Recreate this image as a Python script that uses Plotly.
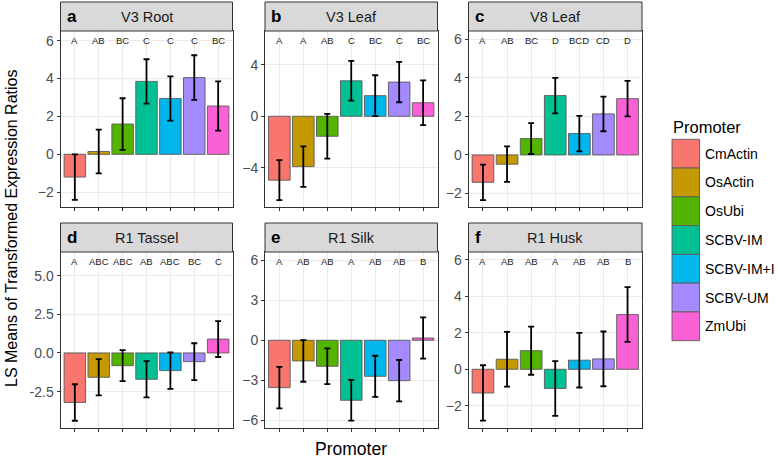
import plotly.graph_objects as go

# ---------------- data ----------------
promoters = ["CmActin", "OsActin", "OsUbi", "SCBV-IM", "SCBV-IM+I", "SCBV-UM", "ZmUbi"]
colors = ["#F8766D", "#C49A00", "#53B400", "#00C094", "#00B6EB", "#A58AFF", "#FB61D7"]

panel_letters = ["a", "b", "c", "d", "e", "f"]
panel_titles = ["V3 Root", "V3 Leaf", "V8 Leaf", "R1 Tassel", "R1 Silk", "R1 Husk"]

v3_root_mean = [-1.2, 0.15, 1.6, 3.85, 2.95, 4.05, 2.55]
v3_root_err = [1.2, 1.15, 1.36, 1.17, 1.17, 1.18, 1.3]
v3_root_groups = ["A", "AB", "BC", "C", "C", "C", "BC"]

v3_leaf_mean = [-4.95, -3.9, -1.55, 2.75, 1.6, 2.65, 1.05]
v3_leaf_err = [1.55, 1.57, 1.73, 1.54, 1.58, 1.56, 1.73]
v3_leaf_groups = ["A", "A", "AB", "C", "BC", "C", "BC"]

v8_leaf_mean = [-1.42, -0.48, 0.85, 3.08, 1.11, 2.13, 2.92]
v8_leaf_err = [0.92, 0.92, 0.8, 0.92, 0.92, 0.9, 0.92]
v8_leaf_groups = ["A", "AB", "BC", "D", "BCD", "CD", "D"]

r1_tassel_mean = [-3.2, -1.57, -0.82, -1.7, -1.14, -0.56, 0.9]
r1_tassel_err = [1.18, 1.17, 1.0, 1.17, 1.18, 1.19, 1.16]
r1_tassel_groups = ["A", "ABC", "ABC", "AB", "ABC", "BC", "C"]

r1_silk_mean = [-3.55, -1.55, -1.95, -4.5, -2.7, -3.03, 0.17]
r1_silk_err = [1.56, 1.56, 1.34, 1.53, 1.54, 1.55, 1.55]
r1_silk_groups = ["A", "AB", "AB", "A", "AB", "AB", "B"]

r1_husk_mean = [-1.3, 0.55, 1.02, -1.05, 0.5, 0.57, 3.0]
r1_husk_err = [1.52, 1.5, 1.32, 1.5, 1.5, 1.5, 1.5]
r1_husk_groups = ["A", "AB", "AB", "A", "AB", "AB", "B"]

means = [v3_root_mean, v3_leaf_mean, v8_leaf_mean, r1_tassel_mean, r1_silk_mean, r1_husk_mean]
errs = [v3_root_err, v3_leaf_err, v8_leaf_err, r1_tassel_err, r1_silk_err, r1_husk_err]
groups = [v3_root_groups, v3_leaf_groups, v8_leaf_groups, r1_tassel_groups, r1_silk_groups, r1_husk_groups]

y_ranges = [[-2.78, 6.51], [-7.03, 6.61], [-2.70, 6.43], [-4.85, 6.53], [-6.58, 6.62], [-3.22, 6.43]]
y_ticks = [[-2, 0, 2, 4, 6], [-4, 0, 4], [-2, 0, 2, 4, 6], [-2.5, 0, 2.5, 5.0], [-6, -3, 0, 3, 6], [-2, 0, 2, 4, 6]]
y_ticktext = [None, None, None, ["-2.5", "0.0", "2.5", "5.0"], None, None]

# ---------------- layout geometry (pixels) ----------------
W, H = 778, 458
col_px = [(60.5, 232.5), (265, 437.5), (468.5, 642)]
row_px = [(31, 207), (252, 428)]
strip_h = 29.0

FONT = "Liberation Sans, Arial, sans-serif"
fig = go.Figure()
layout = dict(
    width=W, height=H,
    margin=dict(l=0, r=0, t=0, b=0),
    paper_bgcolor="white", plot_bgcolor="white",
    showlegend=False, bargap=0.1,
    font=dict(family=FONT, color="#333333"),
)
annotations = []
shapes = []

for i in range(6):
    r, c = divmod(i, 3)
    n = "" if i == 0 else str(i + 1)
    xa, ya = "x" + n, "y" + n
    x0, x1 = col_px[c]
    yt, yb = row_px[r]
    ph = yb - yt
    fig.add_trace(go.Bar(
        x=promoters, y=means[i], xaxis=xa, yaxis=ya,
        marker=dict(color=colors, line=dict(color="#5a5a5a", width=0.9)),
        error_y=dict(type="data", array=errs[i], color="black", thickness=1.8, width=3),
        width=0.9, hoverinfo="x+y",
    ))
    layout["xaxis" + n] = dict(
        domain=[x0 / W, x1 / W], anchor=ya, range=[-0.6, 6.6], type="category",
        showticklabels=False, showgrid=True, gridcolor="#EBEBEB", gridwidth=1.1,
        showline=True, linecolor="#333333", linewidth=1, mirror=True,
        ticks="outside", ticklen=3, tickcolor="#333333", fixedrange=True,
    )
    yax = dict(
        domain=[1 - yb / H, 1 - yt / H], anchor=xa, range=y_ranges[i],
        tickvals=y_ticks[i], showgrid=True, gridcolor="#EBEBEB", gridwidth=1.1,
        zeroline=False, showline=True, linecolor="#333333", linewidth=1, mirror=True,
        ticks="outside", ticklen=3, tickcolor="#333333",
        tickfont=dict(size=14, color="#4D4D4D", family=FONT), fixedrange=True,
    )
    if y_ticktext[i] is not None:
        yax["ticktext"] = y_ticktext[i]
    layout["yaxis" + n] = yax

    # strip
    top = 1 + strip_h / ph
    shapes.append(dict(type="rect", xref=xa + " domain", yref=ya + " domain",
                       x0=0, x1=1, y0=1, y1=top, fillcolor="#D9D9D9",
                       line=dict(color="#333333", width=1), layer="above"))
    annotations.append(dict(xref=xa + " domain", yref=ya + " domain", x=0.5, y=1 + strip_h / 2 / ph,
                            text=panel_titles[i], showarrow=False, xanchor="center", yanchor="middle",
                            font=dict(size=14.5, color="#1A1A1A", family=FONT)))
    annotations.append(dict(xref=xa + " domain", yref=ya + " domain", x=0.025, y=1 + strip_h / 2 / ph,
                            text="<b>" + panel_letters[i] + "</b>", showarrow=False, xanchor="left",
                            yanchor="middle", font=dict(size=17, color="black", family=FONT)))
    # group letters
    for j, g in enumerate(groups[i]):
        annotations.append(dict(xref=xa, yref=ya + " domain", x=promoters[j], y=1 - 10 / ph,
                                text=g, showarrow=False, xanchor="center", yanchor="middle",
                                font=dict(size=9.5, color="#1A1A1A", family=FONT)))

# axis titles
annotations.append(dict(xref="paper", yref="paper", x=351 / W, y=1 - 449 / H, text="Promoter",
                        showarrow=False, xanchor="center", yanchor="middle",
                        font=dict(size=17.5, color="black", family=FONT)))
annotations.append(dict(xref="paper", yref="paper", x=11 / W, y=1 - 229 / H,
                        text="LS Means of Transformed Expression Ratios", textangle=-90,
                        showarrow=False, xanchor="center", yanchor="middle",
                        font=dict(size=16, color="black", family=FONT)))

# legend (drawn manually to reproduce ggplot key size)
annotations.append(dict(xref="paper", yref="paper", x=671 / W, y=1 - 126.5 / H, text="Promoter",
                        showarrow=False, xanchor="left", yanchor="middle",
                        font=dict(size=16.5, color="black", family=FONT)))
key_top, key_h = 139.3, 28.77
for j, (p, col) in enumerate(zip(promoters, colors)):
    y0 = key_top + j * key_h
    shapes.append(dict(type="rect", xref="paper", yref="paper", x0=672 / W, x1=699.5 / W,
                       y0=1 - (y0 + key_h) / H, y1=1 - y0 / H, fillcolor=col,
                       line=dict(color="#5a5a5a", width=0.9)))
    annotations.append(dict(xref="paper", yref="paper", x=703 / W, y=1 - (y0 + key_h / 2) / H,
                            text=p, showarrow=False, xanchor="left", yanchor="middle",
                            font=dict(size=14, color="black", family=FONT)))

layout["annotations"] = annotations
layout["shapes"] = shapes
fig.update_layout(**layout)
fig.write_html("out.html", config={"displayModeBar": False},
               post_script="document.body.style.margin='0px';document.body.style.overflow='hidden';")
